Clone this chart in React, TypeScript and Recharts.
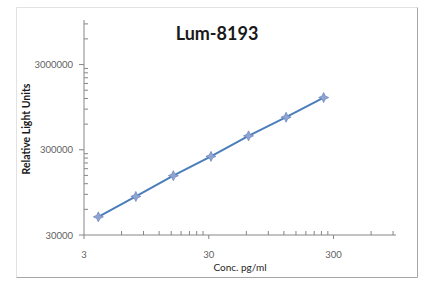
import React from "react";
import { LineChart, Line, XAxis, YAxis } from "recharts";

// standard curve: concentration (pg/ml) vs relative light units
const concentrations = [3.91, 7.81, 15.6, 31.25, 62.5, 125, 250];
const rluValues = [49000, 85000, 149000, 251000, 437000, 723000, 1230000];

const xMajorTicks = [3, 30, 300];
const yMajorTicks = [30000, 300000, 3000000];
const multiples = [1, 2, 3, 4, 5, 6, 7, 8, 9];

const X_MAX = 950;
const Y_MAX = 10000000;

const xTicks = xMajorTicks.flatMap((b) => multiples.map((k) => b * k)).filter((v) => v <= X_MAX);
const yTicks = yMajorTicks.flatMap((b) => multiples.map((k) => b * k)).filter((v) => v <= Y_MAX);

const data = concentrations.map((conc, i) => ({ conc, rlu: rluValues[i] }));

const axisColor = "#868686";
const labelColor = "#5f5f5f";
const font = "Lato, 'Open Sans', sans-serif";

const XTick = (props: any) => {
  const { x, y, payload } = props;
  const major = xMajorTicks.includes(payload.value);
  return (
    <g>
      <line x1={x} x2={x} y1={major ? y : y - 4} y2={major ? y + 4 : y} stroke={axisColor} />
      {major && (
        <text x={x} y={y + 23} textAnchor="middle" fontSize={9.5} fill={labelColor} fontFamily={font}>
          {payload.value}
        </text>
      )}
    </g>
  );
};

const YTick = (props: any) => {
  const { x, y, payload } = props;
  const major = yMajorTicks.includes(payload.value);
  return (
    <g>
      <line x1={major ? x - 5 : x} x2={major ? x : x + 4} y1={y} y2={y} stroke={axisColor} />
      {major && (
        <text x={x - 11} y={y + 3.5} textAnchor="end" fontSize={9.5} fill={labelColor} fontFamily={font}>
          {payload.value}
        </text>
      )}
    </g>
  );
};

const StarDot = (props: any) => {
  const { cx, cy } = props;
  if (cx == null || cy == null) return null;
  const r = 5;
  const i = 1.6;
  const d = `M${cx},${cy - r} L${cx + i},${cy - i} L${cx + r},${cy} L${cx + i},${cy + i} L${cx},${cy + r} L${cx - i},${cy + i} L${cx - r},${cy} L${cx - i},${cy - i} Z`;
  return <path d={d} fill="#8ea4d2" stroke="#7189c0" strokeWidth={0.8} />;
};

export default function App() {
  return (
    <div style={{ position: "absolute", left: 0, top: 0, width: 443, height: 297, background: "#fff" }}>
      <LineChart width={443} height={297} data={data} margin={{ top: 20, right: 47, bottom: 32, left: 25 }}>
        <XAxis
          type="number"
          dataKey="conc"
          scale="log"
          domain={[3, X_MAX]}
          ticks={xTicks}
          interval={0}
          allowDataOverflow
          tick={<XTick />}
          tickSize={0}
          tickMargin={0}
          tickLine={false}
          axisLine={{ stroke: axisColor }}
          height={30}
        />
        <YAxis
          type="number"
          dataKey="rlu"
          scale="log"
          domain={[30000, Y_MAX]}
          ticks={yTicks}
          interval={0}
          allowDataOverflow
          tick={<YTick />}
          tickSize={0}
          tickMargin={0}
          tickLine={false}
          axisLine={{ stroke: axisColor }}
          width={59}
        />
        <Line
          type="linear"
          dataKey="rlu"
          stroke="#4a7ebb"
          strokeWidth={2}
          dot={<StarDot />}
          isAnimationActive={false}
        />
      </LineChart>
      <svg
        width={443}
        height={297}
        style={{ position: "absolute", left: 0, top: 0, pointerEvents: "none" }}
      >
        <line x1={16.5} y1={7.5} x2={417.5} y2={7.5} stroke="#e2e2e2" />
        <line x1={16.5} y1={7.5} x2={16.5} y2={277.5} stroke="#e2e2e2" />
        <line x1={417.5} y1={7.5} x2={417.5} y2={277.5} stroke="#a6a6a6" />
        <line x1={16.5} y1={277.5} x2={417.5} y2={277.5} stroke="#a6a6a6" />
        <text x={217} y={40} textAnchor="middle" fontSize={18} fontWeight="bold" fill="#1a1a1a" fontFamily={font}>
          Lum-8193
        </text>
        <text
          x={0}
          y={0}
          transform="translate(30,129) rotate(-90)"
          textAnchor="middle"
          fontSize={10.5}
          fontWeight="bold"
          fill="#1a1a1a"
          fontFamily={font}
        >
          Relative Light Units
        </text>
        <text x={240} y={271} textAnchor="middle" fontSize={10} fill="#262626" fontFamily={font}>
          Conc. pg/ml
        </text>
      </svg>
    </div>
  );
}
